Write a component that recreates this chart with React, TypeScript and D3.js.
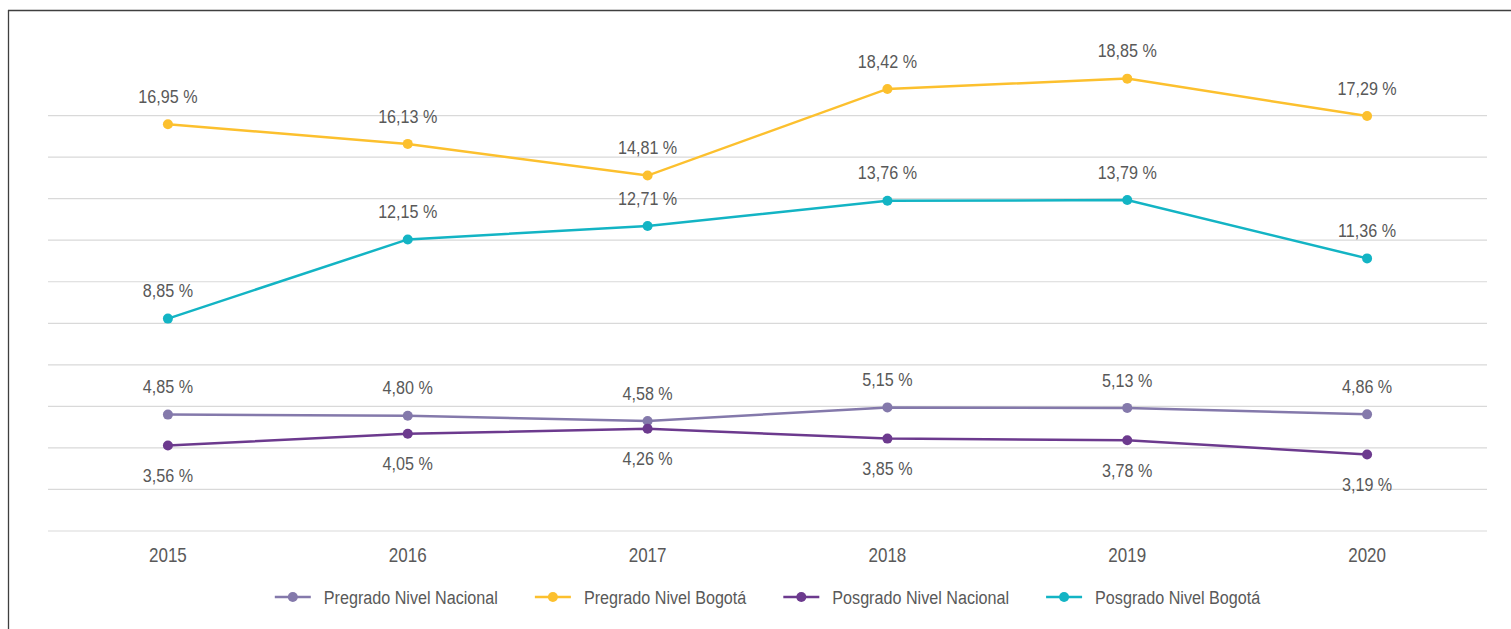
import React, { useRef, useEffect } from 'react';
import * as d3 from 'd3';

const years = ['2015', '2016', '2017', '2018', '2019', '2020'];
const pregradoNacional = [4.85, 4.80, 4.58, 5.15, 5.13, 4.86];
const pregradoBogota = [16.95, 16.13, 14.81, 18.42, 18.85, 17.29];
const posgradoNacional = [3.56, 4.05, 4.26, 3.85, 3.78, 3.19];
const posgradoBogota = [8.85, 12.15, 12.71, 13.76, 13.79, 11.36];
const seriesNames = ['Pregrado Nivel Nacional', 'Pregrado Nivel Bogotá', 'Posgrado Nivel Nacional', 'Posgrado Nivel Bogotá'];

// gridlines in the original are spaced at an odd step, not round numbers
const gridStep = 1.731;
const gridCount = 10;

const W = 1511;
const H = 629;
const FONT = '"Liberation Sans", Arial, sans-serif';
const TEXT = '#595959';
// no narrow font installed, so squeeze the text horizontally
const NARROW = 0.85;

const App = () => {
  const svgRef = useRef<SVGSVGElement>(null);

  useEffect(() => {
    const svg = d3.select(svgRef.current);
    svg.selectAll('*').remove();

    const series = [
      { name: seriesNames[0], values: pregradoNacional, color: '#8479ab', above: true },
      { name: seriesNames[1], values: pregradoBogota, color: '#fcc02e', above: true },
      { name: seriesNames[2], values: posgradoNacional, color: '#6c3a8e', above: false },
      { name: seriesNames[3], values: posgradoBogota, color: '#13b4c4', above: true },
    ];

    const x = d3.scaleBand().domain(years).range([48, 1487]).padding(0);
    const y = d3.scaleLinear().domain([0, gridStep * 12]).range([531, 32.5]);
    const cx = (d: string) => (x(d) as number) + x.bandwidth() / 2;
    const at = (px: number, py: number) => `translate(${px},${py}) scale(${NARROW},1)`;

    // frame
    svg.append('line').attr('x1', 8.5).attr('x2', 8.5).attr('y1', 10).attr('y2', H)
      .attr('stroke', '#3f3f3f').attr('stroke-width', 1.3);
    svg.append('line').attr('x1', 8).attr('x2', W).attr('y1', 10.5).attr('y2', 10.5)
      .attr('stroke', '#3f3f3f').attr('stroke-width', 1.3);

    // grid
    svg.append('g').selectAll('line')
      .data(d3.range(0, gridCount + 1).map(i => i * gridStep))
      .enter().append('line')
      .attr('x1', 48).attr('x2', 1487)
      .attr('y1', d => y(d)).attr('y2', d => y(d))
      .attr('stroke', '#d9d9d9').attr('stroke-width', 1.2);

    // x labels
    svg.append('g').selectAll('text')
      .data(years).enter().append('text')
      .attr('transform', d => at(cx(d), 562))
      .attr('text-anchor', 'middle')
      .style('font-family', FONT).style('font-size', '20px').attr('fill', TEXT)
      .text(d => d);

    const fmt = (v: number) => d3.format('.2f')(v).replace('.', ',') + ' %';
    const line = d3.line<number>().x((_, i) => cx(years[i])).y(d => y(d));

    series.forEach(s => {
      const g = svg.append('g');
      g.append('path').datum(s.values)
        .attr('d', line).attr('fill', 'none')
        .attr('stroke', s.color).attr('stroke-width', 2.5);
      g.selectAll('circle').data(s.values).enter().append('circle')
        .attr('cx', (_, i) => cx(years[i])).attr('cy', d => y(d))
        .attr('r', 5).attr('fill', s.color);
      g.selectAll('text').data(s.values).enter().append('text')
        .attr('transform', (d, i) => at(cx(years[i]), y(d) + (s.above ? -28 : 30)))
        .attr('dy', '0.35em')
        .attr('text-anchor', 'middle')
        .style('font-family', FONT).style('font-size', '19px').attr('fill', TEXT)
        .text(d => fmt(d));
    });

    // legend
    const legend = svg.append('g');
    let offset = 0;
    series.forEach((s, i) => {
      const item = legend.append('g').attr('transform', `translate(${offset},0)`);
      item.append('line').attr('x1', 0).attr('x2', 36).attr('y1', 0).attr('y2', 0)
        .attr('stroke', s.color).attr('stroke-width', 2.5);
      item.append('circle').attr('cx', 18).attr('cy', 0).attr('r', 5).attr('fill', s.color);
      const t = item.append('text').attr('transform', at(49, 0)).attr('dy', '0.35em')
        .style('font-family', FONT).style('font-size', '19px').attr('fill', TEXT)
        .text(s.name);
      const tw = (t.node() as SVGTextElement).getComputedTextLength() * NARROW;
      offset += 49 + tw + (i < series.length - 1 ? 37 : 0);
    });
    const mid = (48 + 1487) / 2;
    legend.attr('transform', `translate(${mid - offset / 2},597)`);
  }, []);

  return (
    <svg ref={svgRef} width={W} height={H}
      style={{ position: 'absolute', left: 0, top: 0, background: '#fff' }} />
  );
};

export default App;
